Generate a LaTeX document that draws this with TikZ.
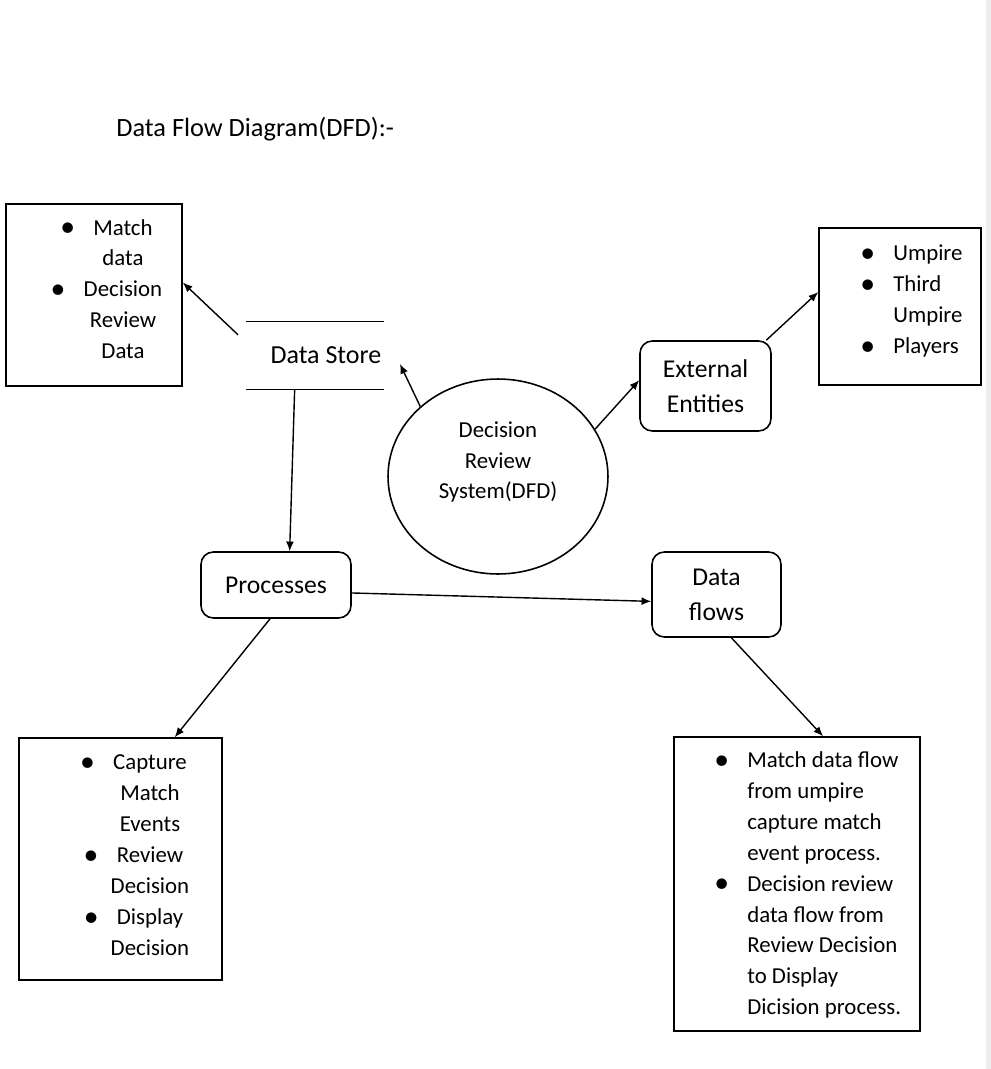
\documentclass[tikz,border=0pt]{standalone}
\usepackage{fontspec}
\setmainfont{Carlito}
\usetikzlibrary{shapes.geometric,arrows.meta}
\definecolor{edgegray}{RGB}{238,238,238}
\newcommand{\bul}{\llap{\raisebox{-0.08em}{\scalebox{1.3}{\textbullet}}\hspace{0.8em}}}

\begin{document}
\begin{tikzpicture}
            [x=0.02cm,y=-0.02cm,
             listbox/.style={rectangle,draw,line width=0.9pt,inner sep=0pt},
             procbox/.style={rectangle,rounded corners=7pt,draw,line width=0.9pt,inner sep=0pt,align=center,font=\fontsize{14.6}{19.8}\selectfont},
             listtxt/.style={inner sep=0pt,font=\fontsize{13}{17.6}\selectfont},
             flow/.style={-{Latex[length=5.5pt,width=4.5pt]},line width=0.8pt}]
            \useasboundingbox (0,0) rectangle (991,1069);
            \fill[edgegray] (986,0) rectangle (991,1069);

            \node[anchor=west,inner sep=0pt,font=\fontsize{15}{18}\selectfont] (title) at (116,129) {Data Flow Diagram(DFD):-};

            \node[listbox,minimum width=3.52cm,minimum height=3.64cm] (matchbox) at (94,295) {};
            \node[listtxt,align=center] (matchtxt) at (123,289) {\bul Match\\data\\\bul Decision\\Review\\Data};
            \node[listbox,minimum width=3.24cm,minimum height=3.14cm] (umpbox) at (900,306.5) {};
            \node[listtxt,align=left,anchor=west] (umptxt) at (893,301) {\bul Umpire\\\bul Third\\Umpire\\\bul Players};
            \node[listbox,minimum width=4.06cm,minimum height=4.84cm] (eventbox) at (120.5,859) {};
            \node[listtxt,align=center] (eventtxt) at (150,855) {\bul Capture\\Match\\Events\\\bul Review\\Decision\\\bul Display\\Decision};
            \node[listbox,minimum width=4.92cm,minimum height=5.88cm] (flowbox) at (797,884) {};
            \node[listtxt,align=left,anchor=west] (flowtxt) at (747,885) {\bul Match data flow\\from umpire\\capture match\\event process.\\\bul Decision review\\data flow from\\Review Decision\\to Display\\Dicision process.};

            \node[inner sep=0pt,minimum width=2.76cm,minimum height=1.34cm,font=\fontsize{14.8}{18}\selectfont] (store) at (315,355.5) {\hspace*{12.5pt}Data Store};
            \draw[line width=0.9pt] (store.north west) -- (store.north east);
            \draw[line width=0.9pt] (store.south west) -- (store.south east);
            \coordinate (storein) at (400,364);

            \node[ellipse,draw,line width=0.9pt,inner sep=0pt,minimum width=4.4cm,minimum height=3.9cm] (dfd) at (498,476.5) {};
            \node[listtxt,align=center] (dfdtxt) at (498,462) {Decision\\Review\\System(DFD)};

            \node[procbox,minimum width=2.62cm,minimum height=1.8cm] (ent) at (705.5,386) {External\\Entities};
            \node[procbox,minimum width=3cm,minimum height=1.32cm] (proc) at (276,585) {Processes};
            \node[procbox,minimum width=2.58cm,minimum height=1.7cm] (flows) at (716.5,594.5) {Data\\flows};

            \draw[flow,shorten <=6pt] (store.169) -- (matchbox.8);
            \draw[flow] (dfd.138) -- (storein);
            \draw[flow] (dfd.26) -- (ent.175);
            \draw[flow] (ent.37) -- (umpbox.170);
            \draw[flow] (store.-121) -- (proc.68);
            \draw[flow] (proc.-6) -- (flows.-174);
            \draw[flow] (proc.-100) -- (eventbox.66);
            \draw[flow] (flows.-71) -- (flowbox.80);
          \end{tikzpicture}
\end{document}
